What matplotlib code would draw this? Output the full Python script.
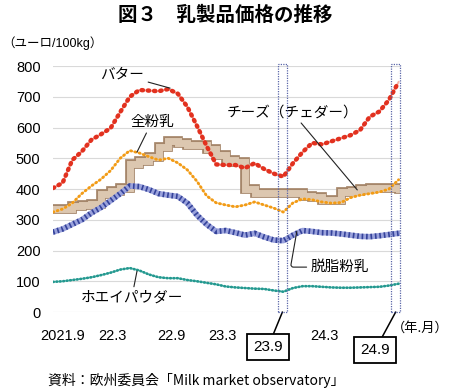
import matplotlib
matplotlib.use('Agg')
import matplotlib.pyplot as plt
from matplotlib.patches import Rectangle

plt.rcParams['font.family'] = ['Liberation Sans', 'Noto Sans CJK JP', 'DejaVu Sans']
JP = ['Noto Sans CJK JP', 'DejaVu Sans']

# 月次 (0 = 2021年9月)
months = list(range(37))

butter = [403, 420, 494, 522, 560, 578, 598, 650, 700, 722, 720, 718, 725, 710,
          667, 605, 540, 480, 478, 478, 468, 484, 465, 450, 440, 484, 520, 550,
          545, 555, 565, 575, 592, 635, 652, 690, 748]
wmp = [325, 335, 354, 385, 410, 432, 460, 500, 525, 517, 505, 494, 500, 485,
       462, 425, 378, 355, 348, 342, 348, 358, 348, 338, 325, 355, 368, 365,
       358, 354, 356, 372, 380, 385, 390, 400, 430]
cheese = [335, 335, 345, 348, 350, 385, 392, 403, 480, 490, 505, 535, 555, 548,
          543, 543, 530, 510, 495, 488, 400, 387, 387, 387, 387, 387, 376, 374,
          364, 364, 390, 392, 400, 403, 403, 403, 400]
smp = [260, 270, 285, 300, 322, 340, 362, 385, 410, 408, 398, 385, 380, 376,
       354, 315, 285, 262, 265, 258, 250, 256, 244, 234, 232, 250, 265, 262,
       258, 257, 254, 250, 246, 245, 248, 252, 256]
whey = [98, 100, 104, 108, 113, 120, 128, 138, 143, 135, 122, 113, 110, 110,
        104, 100, 95, 90, 83, 80, 78, 76, 75, 70, 66, 78, 84, 84, 82, 80, 79,
        79, 80, 81, 82, 86, 92]

tick_pos = [1.0, 6.2, 12.3, 17.6, 28.3]
tick_labels = ['2021.9', '22.3', '22.9', '23.3', '24.3']
highlight = [23.9, 35.7]
highlight_labels = ['23.9', '24.9']

fig = plt.figure(figsize=(4.5, 3.91), dpi=100)
ax = fig.add_axes([0.1178, 0.202, 0.7711, 0.6292])

# チーズ (網掛けの帯)
ax.plot(months, cheese, drawstyle='steps-post', color='#a5866a', lw=7,
        solid_joinstyle='miter', zorder=2)
ax.plot(months, cheese, drawstyle='steps-post', color='#dcc7b0', lw=5,
        solid_joinstyle='miter', zorder=2)

ax.plot(months, butter, color='#f6b3a8', lw=1.4, zorder=3)
ax.plot(months, butter, color='#e2311f', lw=3.2, linestyle=(0, (0.3, 1.1)),
        dash_capstyle='round', zorder=3)
ax.plot(months, wmp, color='#f9d9a0', lw=1.0, zorder=3)
ax.plot(months, wmp, color='#f29b16', lw=2.1, linestyle=(0, (0.3, 1.2)),
        dash_capstyle='round', zorder=3)
ax.plot(months, smp, color='#9aa2dc', lw=4.0, zorder=3)
ax.plot(months, smp, color='#34429a', lw=4.0, linestyle=(0, (0.3, 0.5)),
        zorder=3)
ax.plot(months, whey, color='#a6dcd6', lw=1.3, zorder=3)
ax.plot(months, whey, color='#23988f', lw=1.9, linestyle=(0, (0.3, 1.0)),
        dash_capstyle='round', zorder=3)

ax.set_xlim(0, 36.15)
ax.set_ylim(0, 800)
ax.set_yticks(range(0, 801, 100))
ax.set_xticks(tick_pos)
ax.set_xticklabels(tick_labels)
ax.tick_params(axis='both', length=0, labelsize=10.5)
ax.tick_params(axis='x', pad=12)
ax.tick_params(axis='y', pad=9)
ax.grid(axis='y', color='#d9d9d9', lw=0.8)
ax.set_axisbelow(True)
for s in ax.spines.values():
    s.set_visible(False)

# 強調の枠
for h in highlight:
    ax.add_patch(Rectangle((h - 0.47, 0), 0.94, 805, fill=False, ec='#5a66a8',
                           lw=0.9, linestyle=(0, (1, 1)), clip_on=False, zorder=4))

arr = dict(arrowstyle='-', color='#222222', lw=0.8, shrinkA=1, shrinkB=0)
ax.annotate('バター', xy=(12.2, 728), xytext=(7.2, 771), ha='center', va='center',
            fontsize=10.5, family=JP, arrowprops=arr)
ax.annotate('全粉乳', xy=(8.75, 520), xytext=(10.3, 618), ha='center', va='center',
            fontsize=10.5, family=JP, arrowprops=arr)
ax.annotate('チーズ（チェダー）', xy=(31.7, 397), xytext=(24.9, 650), ha='center',
            va='center', fontsize=10.5, family=JP, arrowprops=arr)
ax.annotate('脱脂粉乳', xy=(25.4, 262), xytext=(29.9, 146), ha='center', va='center',
            fontsize=10.5, family=JP,
            arrowprops=dict(arrowstyle='-', color='#222222', lw=0.8, shrinkA=1,
                            shrinkB=0, connectionstyle='angle,angleA=0,angleB=80,rad=3'))
ax.annotate('ホエイパウダー', xy=(8.75, 133), xytext=(8.2, 46), ha='center',
            va='center', fontsize=10.5, family=JP, arrowprops=arr)

box = dict(boxstyle='square,pad=0.4', fc='white', ec='black', lw=1.3)
line = dict(arrowstyle='-', color='black', lw=1.1, shrinkA=0, shrinkB=0)
ax.annotate(highlight_labels[0], xy=(highlight[0], 0), xytext=(22.4, -114),
            ha='center', va='center', fontsize=11, bbox=box, annotation_clip=False,
            arrowprops=line)
ax.annotate(highlight_labels[1], xy=(highlight[1], 0), xytext=(33.55, -124),
            ha='center', va='center', fontsize=11, bbox=box, annotation_clip=False,
            arrowprops=line)

fig.text(449 / 450, 1 - 328 / 391, '（年.月）', ha='right', va='center',
         fontsize=9.5, family=JP)
fig.text(0.5, 1 - 15 / 391, '図３　乳製品価格の推移', ha='center', va='center',
         fontsize=14, fontweight='bold', family=JP)
fig.text(2 / 450, 1 - 43 / 391, '（ユーロ/100kg）', ha='left', va='center',
         fontsize=9)
fig.text(48 / 450, 1 - 380 / 391, '資料：欧州委員会「Milk market observatory」',
         ha='left', va='center', fontsize=10, family=JP)

fig.savefig('out.png', dpi=100)
